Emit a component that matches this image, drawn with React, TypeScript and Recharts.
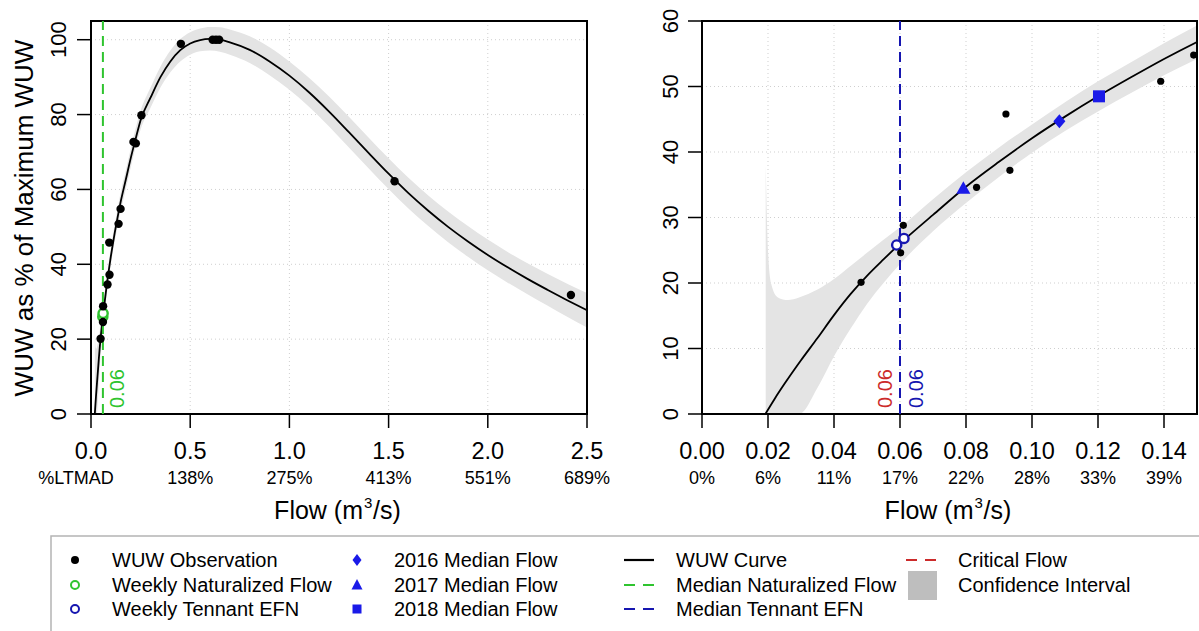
import {
  Area,
  CartesianGrid,
  ComposedChart,
  Line,
  ReferenceArea,
  ReferenceLine,
  Scatter,
  XAxis,
  YAxis,
} from "recharts";

const FONT = "'Liberation Sans', Arial, Helvetica, sans-serif";
const GREEN = "#2fc42f";
const NAVY = "#1616b0";
const BLUE = "#1a1ae8";
const RED = "#cc2b2b";
const BAND = "#e4e4e4";
const BAND_KEY = "#bebebe";

// WUW observations: flow (m3/s) and WUW as % of max
const obsFlow = [0.0482, 0.0602, 0.061, 0.0832, 0.0921, 0.0933, 0.139, 0.149, 0.214, 0.226, 0.254, 0.453, 0.613, 0.63, 0.646, 1.53, 2.419];
const obsWuw = [20.1, 24.6, 28.8, 34.6, 45.8, 37.2, 50.8, 54.8, 72.7, 72.3, 79.8, 98.9, 100, 100, 100, 62.2, 31.8];

const natFlowX = [0.0595, 0.061];
const natFlowY = [26.0, 26.9];
const tennantX = [0.059, 0.0612];
const tennantY = [25.8, 26.8];

// 2016, 2017, 2018 median flows
const medianFlowX = [0.1083, 0.0792, 0.1203];
const medianFlowY = [44.7, 34.4, 48.5];

// fitted WUW curve
const curveFlow = [0.0192, 0.022, 0.025, 0.03, 0.035, 0.04, 0.045, 0.05, 0.055, 0.06, 0.07, 0.08, 0.09, 0.1, 0.11, 0.12, 0.13, 0.14, 0.15, 0.175, 0.2, 0.225, 0.25, 0.3, 0.35, 0.4, 0.45, 0.5, 0.55, 0.6, 0.65, 0.7, 0.8, 0.9, 1.0, 1.1, 1.2, 1.3, 1.4, 1.5, 1.6, 1.7, 1.8, 1.9, 2.0, 2.1, 2.2, 2.3, 2.4, 2.5];
const curveWuw = [0, 2.3, 4.6, 8.2, 11.6, 15.1, 18.3, 21.1, 23.6, 26.0, 30.4, 34.7, 38.5, 42.1, 45.4, 48.5, 51.4, 54.2, 56.8, 62.5, 68.3, 73.5, 78.5, 84.5, 90.0, 94.2, 97.2, 99.0, 99.9, 100.2, 100.0, 99.3, 97.3, 94.2, 90.4, 85.9, 80.8, 75.3, 69.7, 64.2, 59.0, 54.3, 50.0, 46.1, 42.5, 39.2, 36.1, 33.2, 30.4, 27.7];

// confidence interval
const bandFlow = [0.0193, 0.02, 0.021, 0.023, 0.026, 0.0294, 0.035, 0.04, 0.045, 0.05, 0.055, 0.06, 0.07, 0.08, 0.09, 0.1, 0.11, 0.12, 0.13, 0.14, 0.15, 0.175, 0.2, 0.25, 0.3, 0.35, 0.4, 0.45, 0.5, 0.55, 0.6, 0.65, 0.7, 0.8, 0.9, 1.0, 1.1, 1.2, 1.3, 1.4, 1.5, 1.6, 1.7, 1.8, 1.9, 2.0, 2.1, 2.2, 2.3, 2.4, 2.5];
const bandUpper = [38.0, 25.0, 19.8, 17.8, 17.4, 17.8, 19.0, 20.6, 22.6, 24.6, 26.6, 28.5, 32.8, 36.9, 40.7, 44.2, 47.6, 50.8, 53.7, 56.6, 59.3, 65.0, 70.8, 81.0, 87.2, 92.8, 97.1, 100.2, 102.0, 103.0, 103.4, 103.3, 102.7, 100.9, 98.0, 94.2, 89.8, 84.8, 79.4, 73.8, 68.3, 63.1, 58.4, 54.1, 50.2, 46.6, 43.3, 40.3, 37.5, 34.8, 32.3];
const bandLower = [0, 0, 0, 0, 0, 0, 4.0, 8.8, 13.0, 16.8, 20.0, 22.9, 27.9, 32.2, 36.2, 39.9, 43.2, 46.2, 49.0, 51.7, 54.2, 60.0, 65.8, 76.0, 81.8, 87.2, 91.3, 94.2, 96.0, 96.9, 97.1, 96.8, 96.0, 93.8, 90.5, 86.6, 82.0, 76.8, 71.2, 65.6, 60.1, 54.9, 50.2, 45.9, 42.0, 38.4, 35.1, 32.0, 29.0, 26.0, 23.1];

const medianNaturalizedFlow = 0.06;
const medianTennantEfn = 0.06;
const criticalFlow = 0.06;

const leftXTicks = [0, 0.5, 1, 1.5, 2, 2.5];
const leftPct = ["%LTMAD", "138%", "275%", "413%", "551%", "689%"];
const rightXTicks = [0, 0.02, 0.04, 0.06, 0.08, 0.1, 0.12, 0.14];
const rightPct = ["0%", "6%", "11%", "17%", "22%", "28%", "33%", "39%"];
const leftYTicks = [0, 20, 40, 60, 80, 100];
const rightYTicks = [0, 10, 20, 30, 40, 50, 60];

const pts = (xs: number[], ys: number[]) => xs.map((x, i) => ({ x, y: ys[i] }));
const obs = pts(obsFlow, obsWuw);
const natFlow = pts(natFlowX, natFlowY);
const tennant = pts(tennantX, tennantY);
const medians = pts(medianFlowX, medianFlowY);
const curve = pts(curveFlow, curveWuw);
const band = bandFlow.map((x, i) => ({ x, band: [bandLower[i], bandUpper[i]] }));

function XTick(props: any) {
  const { x, payload, ticks, pct, digits, firstDx } = props;
  const i = ticks.indexOf(payload.value);
  return (
    <g fontFamily={FONT} fill="#000">
      <text x={x} y={459} textAnchor="middle" fontSize={23.5}>
        {Number(payload.value).toFixed(digits)}
      </text>
      <text x={x + (i === 0 ? firstDx : 0)} y={484} textAnchor="middle" fontSize={18}>
        {pct[i]}
      </text>
    </g>
  );
}

function YTick(props: any) {
  const { y, payload, baseX } = props;
  return (
    <text transform={`translate(${baseX},${y}) rotate(-90)`} textAnchor="middle" fontSize={22} fontFamily={FONT} fill="#000">
      {payload.value}
    </text>
  );
}

function XTitle(props: any) {
  const vb = props.viewBox;
  const cx = vb.x + vb.width / 2;
  return (
    <g fontFamily={FONT} fill="#000">
      <text x={cx + 24} y={519} textAnchor="end" fontSize={25}>
        Flow (m
      </text>
      <text x={cx + 25} y={508} fontSize={15}>
        3
      </text>
      <text x={cx + 34} y={519} fontSize={25}>
        /s)
      </text>
    </g>
  );
}

function YTitle() {
  return (
    <text transform="translate(33,218) rotate(-90)" textAnchor="middle" fontSize={26} fontFamily={FONT} fill="#000">
      WUW as % of Maximum WUW
    </text>
  );
}

function VLabel(props: any) {
  const { viewBox, dx, color, text } = props;
  const x = viewBox.x + dx;
  const y = viewBox.y + viewBox.height - 6;
  return (
    <text transform={`translate(${x},${y}) rotate(-90)`} fill={color} fontSize={20} fontFamily={FONT}>
      {text}
    </text>
  );
}

const dot = (r: number) => (p: any) => <circle cx={p.cx} cy={p.cy} r={r} fill="#000" />;
const ring = (color: string) => (p: any) => (
  <circle cx={p.cx} cy={p.cy} r={4.6} fill="#fff" stroke={color} strokeWidth={2.4} />
);
const medianShape = (p: any) => {
  const { cx, cy, index } = p;
  if (index === 0)
    return <polygon points={`${cx},${cy - 7} ${cx + 6},${cy} ${cx},${cy + 7} ${cx - 6},${cy}`} fill={BLUE} />;
  if (index === 1)
    return <polygon points={`${cx},${cy - 7.5} ${cx + 7},${cy + 5} ${cx - 7},${cy + 5}`} fill={BLUE} />;
  return <rect x={cx - 6} y={cy - 6} width={12} height={12} fill={BLUE} />;
};

interface PanelProps {
  left: number;
  width: number;
  yAxisWidth: number;
  marginRight: number;
  xDomain: [number, number];
  xTicks: number[];
  pct: string[];
  digits: number;
  firstDx: number;
  yDomain: [number, number];
  yTicks: number[];
  yBase: number;
  dotR: number;
  yTitle?: boolean;
  children?: any;
}

function Panel(p: PanelProps) {
  return (
    <div style={{ position: "absolute", left: p.left, top: 0 }}>
      <ComposedChart width={p.width} height={540} margin={{ top: 21, right: p.marginRight, bottom: 0, left: 0 }}>
        <CartesianGrid stroke="#cfcfcf" strokeDasharray="1 3" />
        <XAxis
          type="number"
          dataKey="x"
          domain={p.xDomain}
          ticks={p.xTicks}
          allowDataOverflow
          axisLine={false}
          tickSize={14}
          tickLine={{ stroke: "#000", strokeWidth: 1.5 }}
          height={126}
          interval={0}
          tick={<XTick ticks={p.xTicks} pct={p.pct} digits={p.digits} firstDx={p.firstDx} />}
          label={<XTitle />}
        />
        <YAxis
          type="number"
          domain={p.yDomain}
          ticks={p.yTicks}
          allowDataOverflow
          axisLine={false}
          width={p.yAxisWidth}
          tickSize={14}
          tickLine={{ stroke: "#000", strokeWidth: 1.5 }}
          interval={0}
          tick={<YTick baseX={p.yBase} />}
          label={p.yTitle ? <YTitle /> : undefined}
        />
        <Area
          data={band}
          dataKey="band"
          type="monotone"
          stroke="none"
          fill={BAND}
          fillOpacity={1}
          isAnimationActive={false}
        />
        <Line
          data={curve}
          dataKey="y"
          type="monotone"
          stroke="#000"
          strokeWidth={1.8}
          dot={false}
          isAnimationActive={false}
        />
        {p.children}
        <Scatter data={obs} dataKey="y" shape={dot(p.dotR)} isAnimationActive={false} />
        <ReferenceArea
          x1={p.xDomain[0]}
          x2={p.xDomain[1]}
          y1={p.yDomain[0]}
          y2={p.yDomain[1]}
          fill="none"
          fillOpacity={0}
          stroke="#000"
          strokeWidth={2}
        />
      </ComposedChart>
    </div>
  );
}

const legendCols = [112, 394, 676, 958];
const legendRows = [560, 585, 609];

function LegendText({ col, row, text }: { col: number; row: number; text: string }) {
  return (
    <text x={legendCols[col]} y={legendRows[row] + 7} fontSize={20} fontFamily={FONT} fill="#000">
      {text}
    </text>
  );
}

function LegendSeg({ col, row, color, dashed }: { col: number; row: number; color: string; dashed?: boolean }) {
  const x0 = legendCols[col] - 52;
  return (
    <line
      x1={x0}
      x2={x0 + 30}
      y1={legendRows[row]}
      y2={legendRows[row]}
      stroke={color}
      strokeWidth={2.2}
      strokeDasharray={dashed ? "11 8" : undefined}
    />
  );
}

function ChartLegend() {
  const s1 = legendCols[0] - 37;
  const s2 = legendCols[1] - 37;
  const [r0, r1, r2] = legendRows;
  return (
    <svg width={1199} height={631} style={{ position: "absolute", left: 0, top: 0, pointerEvents: "none" }}>
      <rect x={51} y={536} width={1200} height={200} fill="none" stroke="#b4b4b4" strokeWidth={1.5} />
      <circle cx={s1} cy={r0} r={4} fill="#000" />
      <circle cx={s1} cy={r1} r={4} fill="none" stroke={GREEN} strokeWidth={2} />
      <circle cx={s1} cy={r2} r={4} fill="none" stroke={NAVY} strokeWidth={2} />
      <LegendText col={0} row={0} text="WUW Observation" />
      <LegendText col={0} row={1} text="Weekly Naturalized Flow" />
      <LegendText col={0} row={2} text="Weekly Tennant EFN" />
      <polygon points={`${s2},${r0 - 6} ${s2 + 4.5},${r0} ${s2},${r0 + 6} ${s2 - 4.5},${r0}`} fill={BLUE} />
      <polygon points={`${s2},${r1 - 6} ${s2 + 5.5},${r1 + 4.5} ${s2 - 5.5},${r1 + 4.5}`} fill={BLUE} />
      <rect x={s2 - 4.5} y={r2 - 4.5} width={9} height={9} fill={BLUE} />
      <LegendText col={1} row={0} text="2016 Median Flow" />
      <LegendText col={1} row={1} text="2017 Median Flow" />
      <LegendText col={1} row={2} text="2018 Median Flow" />
      <LegendSeg col={2} row={0} color="#000" />
      <LegendSeg col={2} row={1} color={GREEN} dashed />
      <LegendSeg col={2} row={2} color={NAVY} dashed />
      <LegendText col={2} row={0} text="WUW Curve" />
      <LegendText col={2} row={1} text="Median Naturalized Flow" />
      <LegendText col={2} row={2} text="Median Tennant EFN" />
      <LegendSeg col={3} row={0} color={RED} dashed />
      <rect x={legendCols[3] - 50} y={r1 - 14} width={29} height={29} fill={BAND_KEY} />
      <LegendText col={3} row={0} text="Critical Flow" />
      <LegendText col={3} row={1} text="Confidence Interval" />
    </svg>
  );
}

export default function App() {
  return (
    <div style={{ position: "absolute", left: 0, top: 0, width: 1199, height: 631, background: "#fff", overflow: "hidden" }}>
      <Panel
        left={0}
        width={640}
        yAxisWidth={91}
        marginRight={53}
        xDomain={[0, 2.5]}
        xTicks={leftXTicks}
        pct={leftPct}
        digits={1}
        firstDx={-15}
        yDomain={[0, 105]}
        yTicks={leftYTicks}
        yBase={65.5}
        dotR={4.2}
        yTitle
      >
        <ReferenceLine
          x={medianNaturalizedFlow}
          stroke={GREEN}
          strokeWidth={2}
          strokeDasharray="10 6"
          label={<VLabel dx={21} color={GREEN} text={medianNaturalizedFlow.toFixed(2)} />}
        />
        <Scatter data={natFlow} dataKey="y" shape={ring(GREEN)} isAnimationActive={false} />
      </Panel>
      <Panel
        left={600}
        width={599}
        yAxisWidth={102}
        marginRight={2}
        xDomain={[0, 0.15]}
        xTicks={rightXTicks}
        pct={rightPct}
        digits={2}
        firstDx={0}
        yDomain={[0, 60]}
        yTicks={rightYTicks}
        yBase={78}
        dotR={3.6}
      >
        <ReferenceLine
          x={criticalFlow}
          stroke={RED}
          strokeWidth={2}
          strokeDasharray="10 6"
          label={<VLabel dx={-8} color={RED} text={criticalFlow.toFixed(2)} />}
        />
        <ReferenceLine
          x={medianTennantEfn}
          stroke={NAVY}
          strokeWidth={2}
          strokeDasharray="10 6"
          label={<VLabel dx={23} color={NAVY} text={medianTennantEfn.toFixed(2)} />}
        />
        <Scatter data={tennant} dataKey="y" shape={ring(NAVY)} isAnimationActive={false} />
        <Scatter data={medians} dataKey="y" shape={medianShape} isAnimationActive={false} />
      </Panel>
      <ChartLegend />
    </div>
  );
}
